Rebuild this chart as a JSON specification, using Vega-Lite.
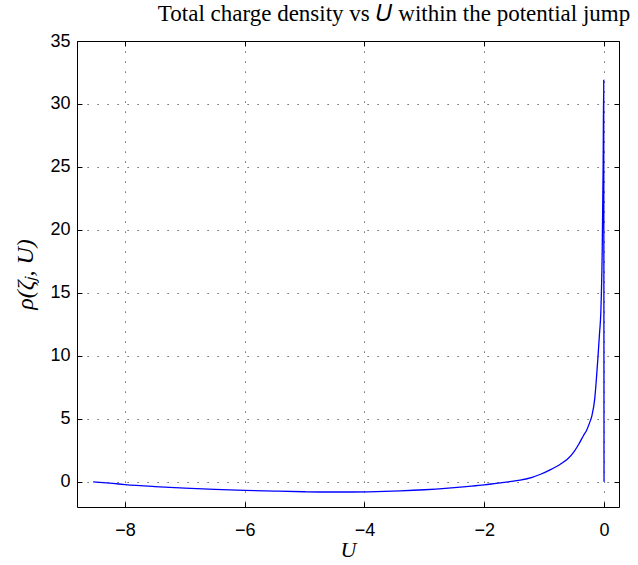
{
  "$schema": "https://vega.github.io/schema/vega-lite/v6.json",
  "autosize": "none",
  "width": 542,
  "height": 466,
  "padding": {"left": 77, "top": 41, "right": 19, "bottom": 58},
  "background": "white",
  "config": {
    "view": {"stroke": null},
    "axis": {
      "domainColor": "black",
      "domainWidth": 1,
      "tickColor": "black",
      "tickWidth": 1,
      "labelColor": "black",
      "labelFont": "Liberation Sans",
      "labelFontSize": 18,
      "gridColor": "black",
      "gridOpacity": 0.75,
      "gridDash": [1.2, 8.8],
      "gridWidth": 1
    }
  },
  "title": {
    "text": "Total charge density vs 𝑈 within the potential jump",
    "font": "Liberation Serif",
    "fontSize": 23,
    "fontWeight": "normal",
    "color": "black",
    "anchor": "middle",
    "dx": 46,
    "baseline": "alphabetic",
    "offset": -12
  },
  "data": {
    "values": [
      {"U": -8.53, "rho": 0.0},
      {"U": -8.2, "rho": -0.13},
      {"U": -8.0, "rho": -0.22},
      {"U": -7.5, "rho": -0.38},
      {"U": -7.0, "rho": -0.5},
      {"U": -6.5, "rho": -0.6},
      {"U": -6.0, "rho": -0.68},
      {"U": -5.5, "rho": -0.74},
      {"U": -5.0, "rho": -0.79},
      {"U": -4.6, "rho": -0.81},
      {"U": -4.2, "rho": -0.81},
      {"U": -3.8, "rho": -0.78},
      {"U": -3.4, "rho": -0.72},
      {"U": -3.0, "rho": -0.63},
      {"U": -2.6, "rho": -0.5},
      {"U": -2.3, "rho": -0.38},
      {"U": -2.0, "rho": -0.25},
      {"U": -1.8, "rho": -0.12},
      {"U": -1.6, "rho": 0.0},
      {"U": -1.4, "rho": 0.13},
      {"U": -1.2, "rho": 0.35},
      {"U": -1.06, "rho": 0.6},
      {"U": -0.9, "rho": 0.95},
      {"U": -0.73, "rho": 1.4},
      {"U": -0.6, "rho": 1.85},
      {"U": -0.5, "rho": 2.4},
      {"U": -0.42, "rho": 3.0},
      {"U": -0.34, "rho": 3.7},
      {"U": -0.29, "rho": 4.1},
      {"U": -0.24, "rho": 4.7},
      {"U": -0.205, "rho": 5.2},
      {"U": -0.155, "rho": 6.6},
      {"U": -0.13, "rho": 8.0},
      {"U": -0.1, "rho": 10.0},
      {"U": -0.075, "rho": 11.8},
      {"U": -0.053, "rho": 13.5},
      {"U": -0.03, "rho": 18.4},
      {"U": -0.015, "rho": 25.0},
      {"U": -0.005, "rho": 31.9},
      {"U": 0.0, "rho": 0.0}
    ]
  },
  "layer": [
    {
      "mark": {"type": "line", "color": "#0000ff", "strokeWidth": 1.3, "interpolate": "monotone"},
      "encoding": {
        "x": {
          "field": "U", "type": "quantitative",
          "scale": {"domain": [-8.8, 0.25], "nice": false, "zero": false},
          "axis": {
            "orient": "bottom",
            "values": [-8, -6, -4, -2, 0],
            "grid": true,
            "tickSize": -5,
            "labelPadding": 19,
            "title": "U",
            "titleFont": "Liberation Serif",
            "titleFontStyle": "italic",
            "titleFontWeight": "normal",
            "titleFontSize": 22,
            "titleColor": "black",
            "titlePadding": 0
          }
        },
        "y": {
          "field": "rho", "type": "quantitative",
          "scale": {"domain": [-2, 35], "nice": false, "zero": false},
          "axis": {
            "orient": "left",
            "values": [0, 5, 10, 15, 20, 25, 30, 35],
            "grid": true,
            "tickSize": -5,
            "labelPadding": 12,
            "title": "ρ(ζⱼ, U)",
            "titleFont": "Liberation Serif",
            "titleFontStyle": "italic",
            "titleFontWeight": "normal",
            "titleFontSize": 24,
            "titleColor": "black",
            "titlePadding": 12
          }
        }
      }
    },
    {
      "mark": {"type": "line", "opacity": 0},
      "encoding": {
        "x": {
          "field": "U", "type": "quantitative",
          "axis": {"orient": "top", "values": [-8, -6, -4, -2, 0], "labels": false, "grid": false, "tickSize": -5, "title": null}
        },
        "y": {
          "field": "rho", "type": "quantitative",
          "axis": {"orient": "right", "values": [0, 5, 10, 15, 20, 25, 30, 35], "labels": false, "grid": false, "tickSize": -5, "title": null}
        }
      }
    }
  ],
  "resolve": {"axis": {"x": "independent", "y": "independent"}}
}
